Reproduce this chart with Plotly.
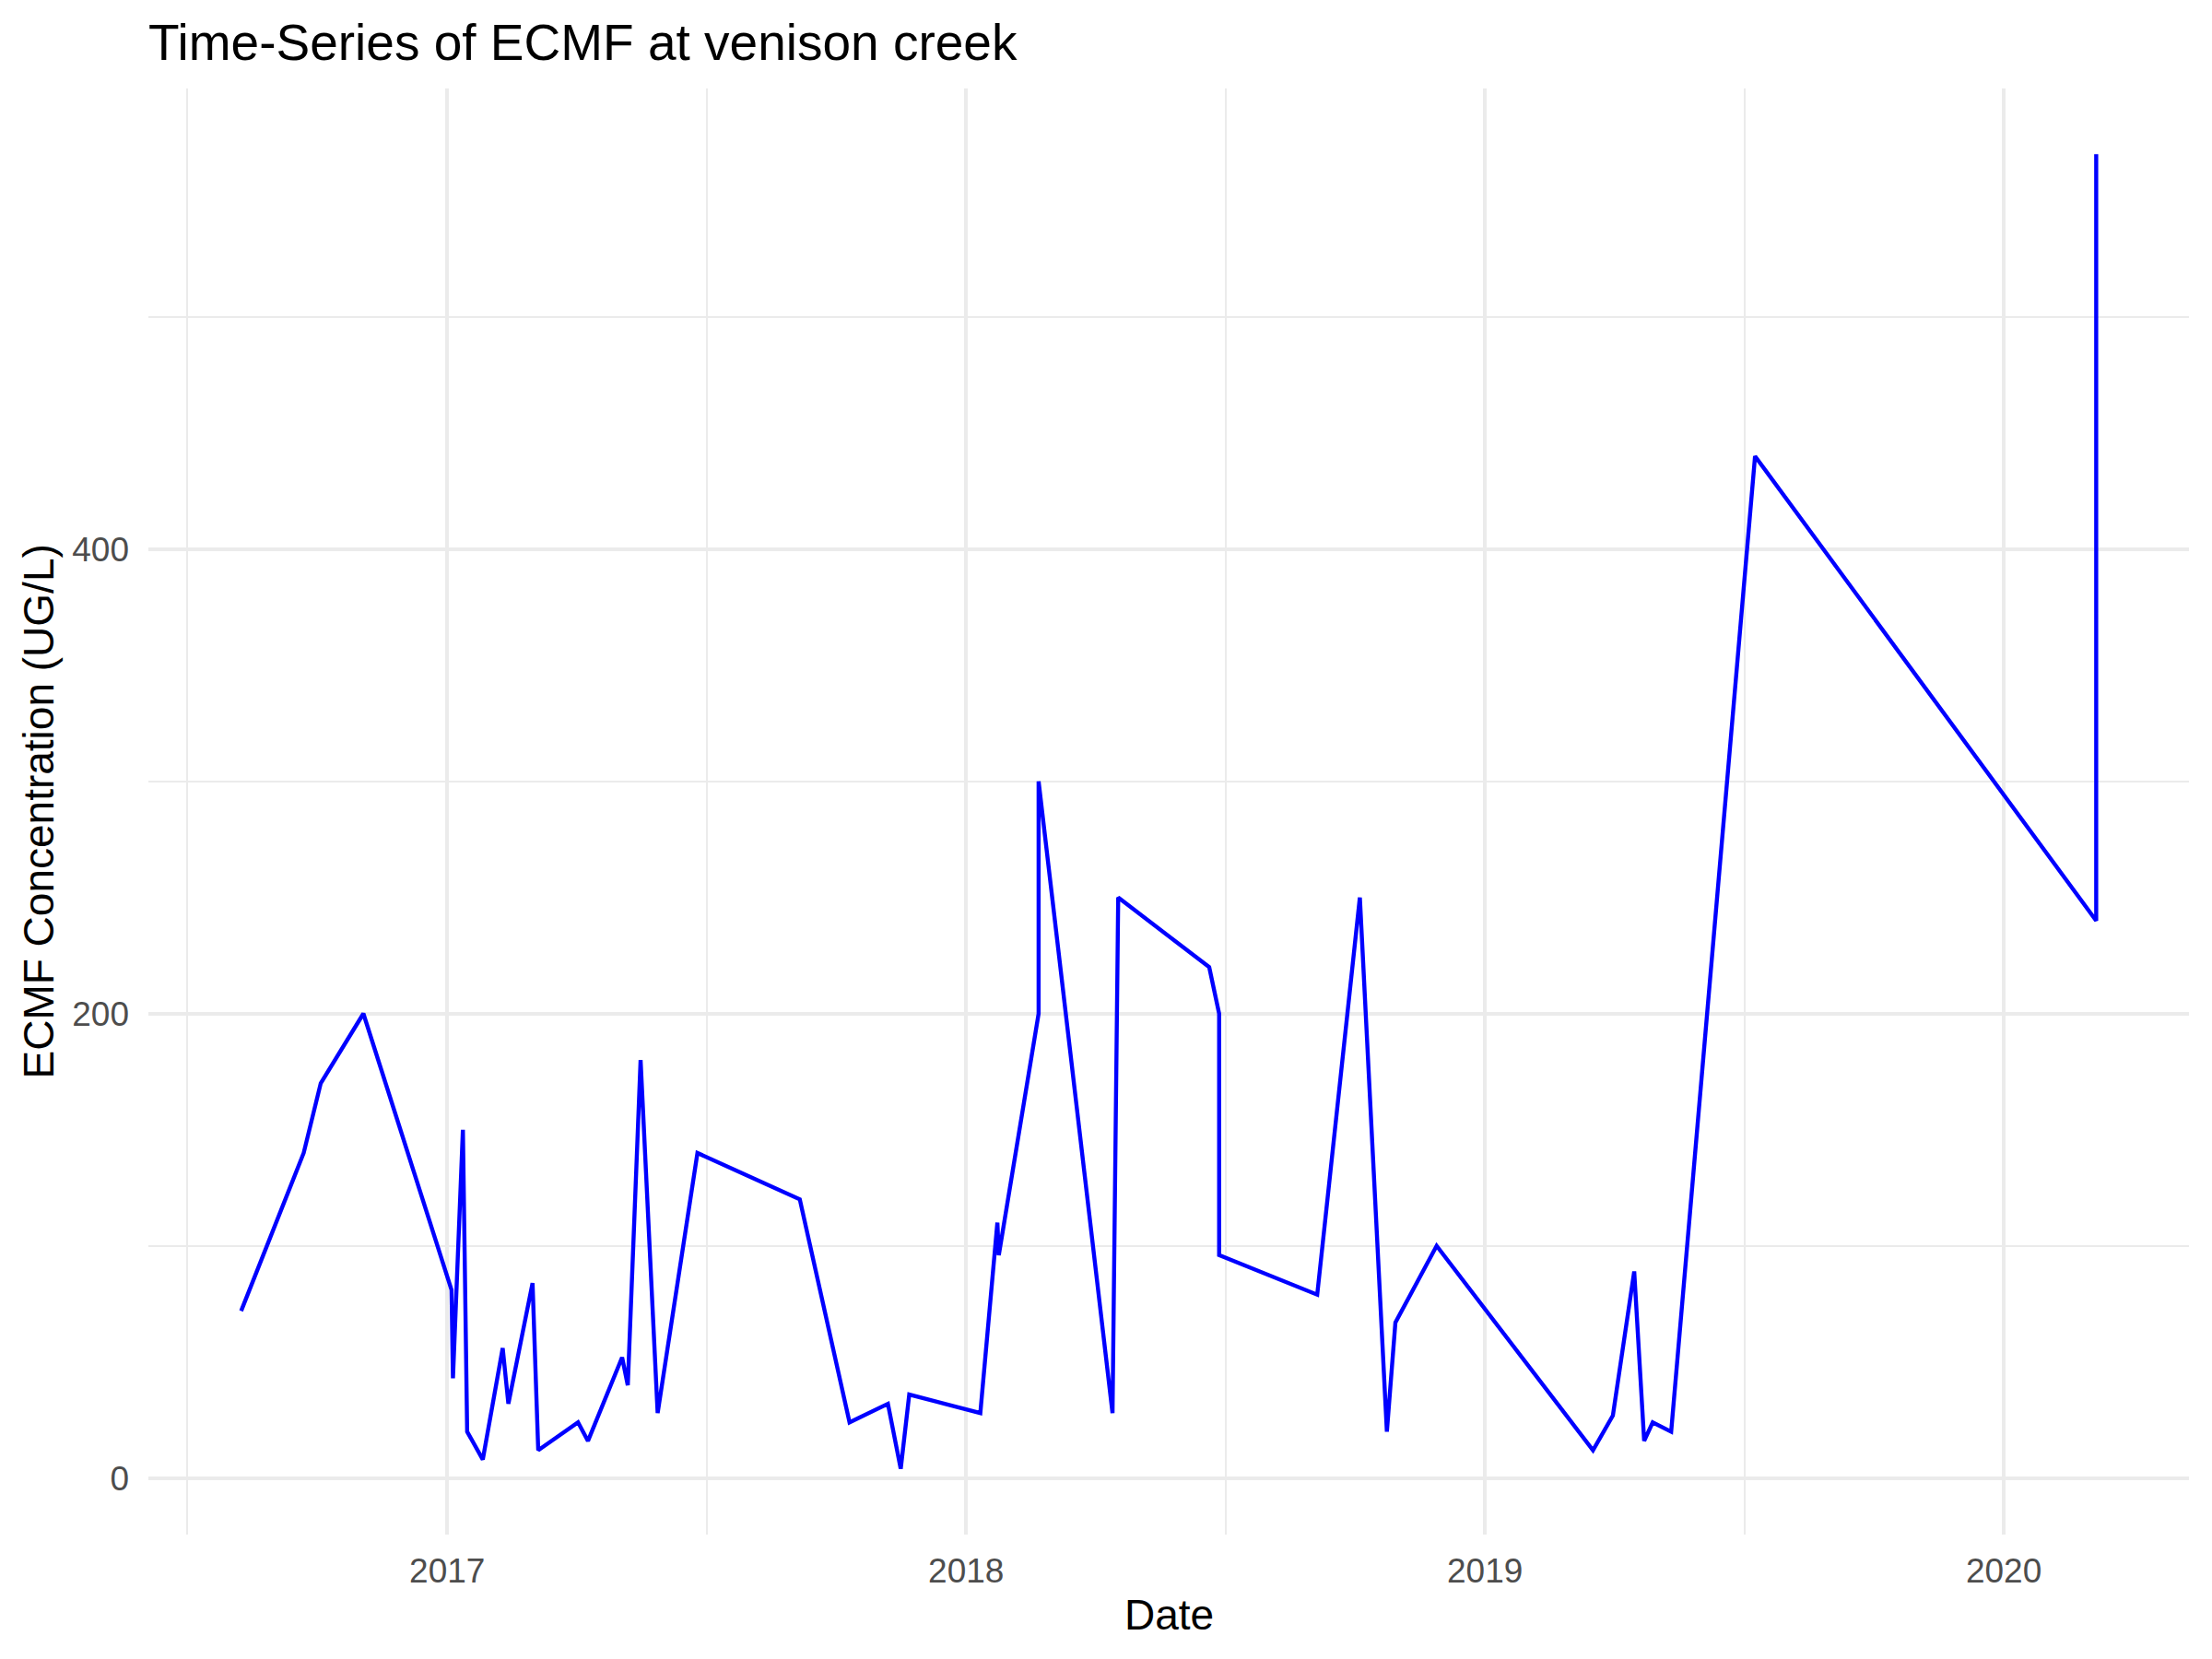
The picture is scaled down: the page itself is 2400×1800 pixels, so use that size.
import pandas as pd
import plotly.graph_objects as go

dates = [
    "2016-08-09", "2016-09-22", "2016-10-04", "2016-11-03",
    "2017-01-04", "2017-01-05", "2017-01-12", "2017-01-15", "2017-01-26",
    "2017-02-09", "2017-02-13", "2017-03-02", "2017-03-06", "2017-04-03",
    "2017-04-10", "2017-05-04", "2017-05-08", "2017-05-17", "2017-05-29",
    "2017-06-26", "2017-09-06", "2017-10-11", "2017-11-07", "2017-11-16",
    "2017-11-22", "2018-01-11", "2018-01-23", "2018-01-24", "2018-02-21",
    "2018-02-21", "2018-04-14", "2018-04-18", "2018-06-21", "2018-06-28",
    "2018-06-28", "2018-09-05", "2018-10-05", "2018-10-24", "2018-10-30",
    "2018-11-28", "2019-03-18", "2019-04-01", "2019-04-16", "2019-04-23",
    "2019-04-29", "2019-05-12", "2019-07-10", "2020-03-06", "2020-03-06",
]
ecmf = [
    72, 140, 170, 200,
    81, 43, 150, 20, 8,
    56, 32, 84, 12, 24,
    16, 52, 40, 180, 28,
    140, 120, 24, 32, 4,
    36, 28, 110, 96, 200,
    300, 28, 250, 220, 200,
    96, 79, 250, 20, 67,
    100, 12, 27, 89, 16,
    24, 20, 440, 240, 570,
]
year_ticks = ["2017-01-01", "2018-01-01", "2019-01-01", "2020-01-01"]
year_labels = ["2017", "2018", "2019", "2020"]
y_ticks = [0, 200, 400]

d = pd.to_datetime(dates)
span = d.max() - d.min()
x_range = [(d.min() - 0.05 * span).strftime("%Y-%m-%d %H:%M"),
           (d.max() + 0.05 * span).strftime("%Y-%m-%d %H:%M")]
ymin, ymax = min(ecmf), max(ecmf)
yspan = ymax - ymin
y_range = [ymin - 0.05 * yspan, ymax + 0.05 * yspan]

# minor breaks midway between yearly breaks (as ggplot does)
yb = pd.to_datetime(["2016-01-01"] + year_ticks + ["2021-01-01"])
minor_x = [(yb[i] + (yb[i + 1] - yb[i]) / 2).strftime("%Y-%m-%d %H:%M")
           for i in range(len(yb) - 1)]

FONT = "Liberation Sans, Arial, sans-serif"
OFF = 8  # page body margin
W, H = 2400 - OFF, 1800 - OFF
ML, MR, MT, MB = 161 - OFF, 25, 96 - OFF, 135
PW, PH = W - ML - MR, H - MT - MB

fig = go.Figure()
fig.add_trace(go.Scatter(x=d, y=ecmf, mode="lines",
                         line=dict(color="#0000FF", width=4.4),
                         showlegend=False))

fig.update_layout(
    width=W, height=H,
    margin=dict(l=ML, r=MR, t=MT, b=MB, pad=0),
    paper_bgcolor="white", plot_bgcolor="white",
    font=dict(family=FONT, color="black"),
    title=dict(text="Time-Series of ECMF at venison creek",
               font=dict(size=55, color="black", family=FONT),
               x=ML / W, xref="container", xanchor="left",
               y=1 - (46 - OFF) / H, yref="container", yanchor="middle"),
    xaxis=dict(
        type="date", range=x_range,
        tickvals=year_ticks, ticktext=year_labels,
        showgrid=True, gridcolor="#EBEBEB", gridwidth=3.6,
        minor=dict(showgrid=True, gridcolor="#EBEBEB", gridwidth=1.8,
                   tickmode="array", tickvals=minor_x),
        zeroline=False, showline=False, ticks="",
        tickfont=dict(size=37, color="#4D4D4D", family=FONT),
        ticklabelstandoff=14,
    ),
    yaxis=dict(
        range=y_range,
        tickvals=y_ticks,
        showgrid=True, gridcolor="#EBEBEB", gridwidth=3.6,
        minor=dict(showgrid=True, gridcolor="#EBEBEB", gridwidth=1.8,
                   dtick=100, tick0=0),
        zeroline=False, showline=False, ticks="",
        tickfont=dict(size=37, color="#4D4D4D", family=FONT),
        ticklabelstandoff=20,
    ),
    annotations=[
        dict(text="Date", xref="paper", yref="paper",
             x=0.5, y=-(1752 - 1665) / PH,
             xanchor="center", yanchor="middle", showarrow=False,
             font=dict(size=46, color="black", family=FONT)),
        dict(text="ECMF Concentration (UG/L)", xref="paper", yref="paper",
             x=-(161 - 41) / PW, y=0.5, textangle=-90,
             xanchor="center", yanchor="middle", showarrow=False,
             font=dict(size=46, color="black", family=FONT)),
    ],
)

fig.write_html("out.html")
